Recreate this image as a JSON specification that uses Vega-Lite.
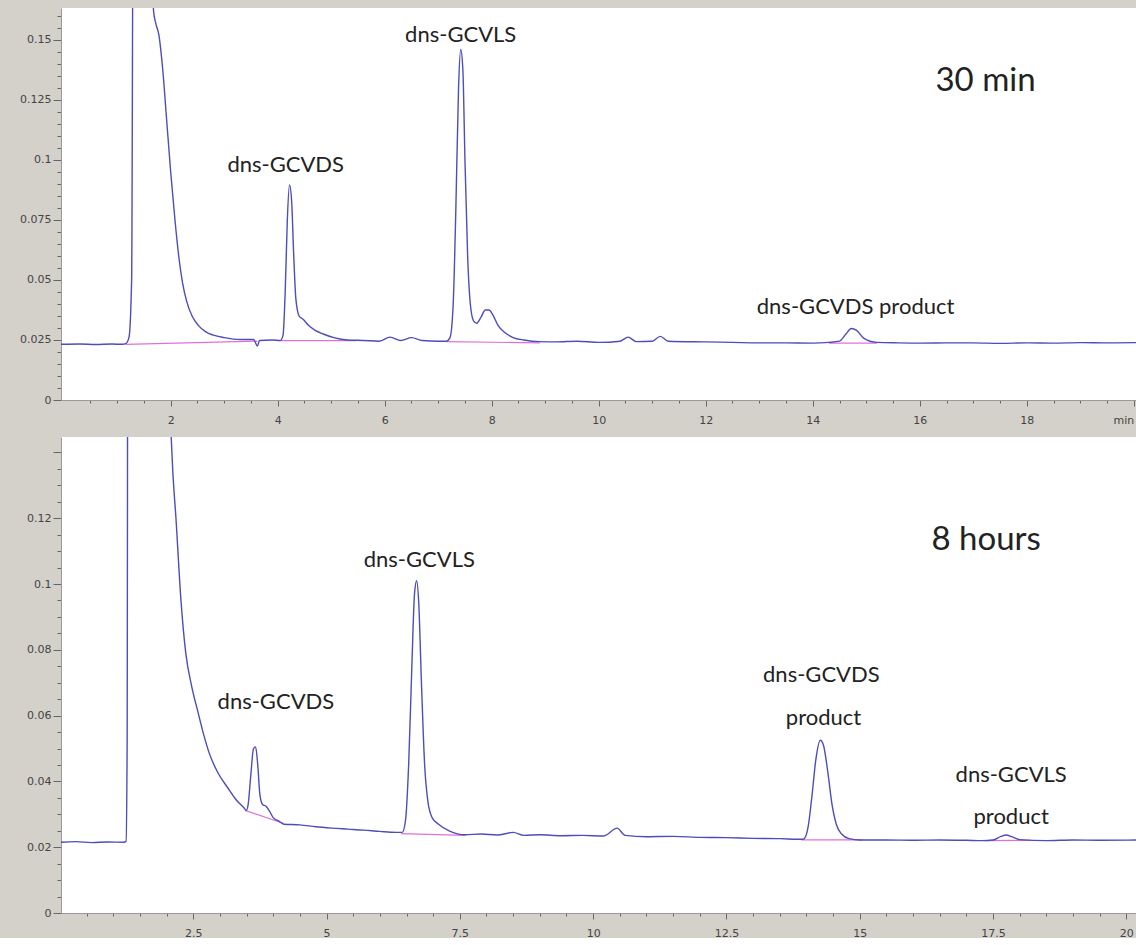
{
  "$schema": "https://vega.github.io/schema/vega-lite/v6.json",
  "background": "#d4d1ca",
  "padding": {"left": 19, "top": 8, "right": 0, "bottom": 0},
  "spacing": 12,
  "config": {
    "view": {"fill": "white", "stroke": null},
    "axis": {
      "labelFont": "DejaVu Sans", "labelFontSize": 11, "labelColor": "#444",
      "tickColor": "#666", "domainColor": "#999", "grid": false, "title": null, "labelPadding": 2
    },
    "text": {"font": "Lato", "color": "#222"}
  },
  "datasets": {
    "top": [
      {"t": -0.05, "v": 0.0232}, {"t": 0.3, "v": 0.0233}, {"t": 0.6, "v": 0.0231}, {"t": 0.9, "v": 0.0233}, {"t": 1.1, "v": 0.0232},
      {"t": 1.16, "v": 0.0235}, {"t": 1.22, "v": 0.026}, {"t": 1.27, "v": 0.05}, {"t": 1.31, "v": 0.3},
      {"t": 1.6, "v": 0.3}, {"t": 1.68, "v": 0.162}, {"t": 1.72, "v": 0.157}, {"t": 1.78, "v": 0.152}, {"t": 1.85, "v": 0.138},
      {"t": 1.92, "v": 0.118}, {"t": 2.0, "v": 0.095}, {"t": 2.08, "v": 0.075}, {"t": 2.15, "v": 0.06}, {"t": 2.22, "v": 0.049},
      {"t": 2.3, "v": 0.041}, {"t": 2.4, "v": 0.035}, {"t": 2.52, "v": 0.031}, {"t": 2.65, "v": 0.0285}, {"t": 2.8, "v": 0.027},
      {"t": 3.0, "v": 0.026}, {"t": 3.3, "v": 0.0252}, {"t": 3.55, "v": 0.0252}, {"t": 3.62, "v": 0.0225}, {"t": 3.66, "v": 0.0248},
      {"t": 3.9, "v": 0.025}, {"t": 4.05, "v": 0.0248}, {"t": 4.1, "v": 0.027}, {"t": 4.14, "v": 0.045}, {"t": 4.18, "v": 0.075},
      {"t": 4.22, "v": 0.0896}, {"t": 4.26, "v": 0.083}, {"t": 4.3, "v": 0.06}, {"t": 4.34, "v": 0.042}, {"t": 4.4, "v": 0.035},
      {"t": 4.48, "v": 0.0335}, {"t": 4.58, "v": 0.031}, {"t": 4.7, "v": 0.029}, {"t": 4.85, "v": 0.0275}, {"t": 5.05, "v": 0.026},
      {"t": 5.3, "v": 0.025}, {"t": 5.6, "v": 0.0248}, {"t": 5.9, "v": 0.0245}, {"t": 6.1, "v": 0.0262}, {"t": 6.3, "v": 0.0248},
      {"t": 6.5, "v": 0.026}, {"t": 6.7, "v": 0.0248}, {"t": 7.0, "v": 0.0245}, {"t": 7.15, "v": 0.0245}, {"t": 7.22, "v": 0.026},
      {"t": 7.28, "v": 0.04}, {"t": 7.33, "v": 0.08}, {"t": 7.38, "v": 0.13}, {"t": 7.42, "v": 0.146}, {"t": 7.46, "v": 0.138},
      {"t": 7.5, "v": 0.1}, {"t": 7.55, "v": 0.06}, {"t": 7.6, "v": 0.04}, {"t": 7.66, "v": 0.033}, {"t": 7.72, "v": 0.032},
      {"t": 7.8, "v": 0.0345}, {"t": 7.88, "v": 0.0375}, {"t": 7.95, "v": 0.0375}, {"t": 8.02, "v": 0.0355}, {"t": 8.12, "v": 0.031},
      {"t": 8.25, "v": 0.028}, {"t": 8.4, "v": 0.026}, {"t": 8.6, "v": 0.025}, {"t": 8.9, "v": 0.0243}, {"t": 9.2, "v": 0.0242},
      {"t": 9.6, "v": 0.0245}, {"t": 10.0, "v": 0.024}, {"t": 10.4, "v": 0.0245}, {"t": 10.55, "v": 0.0262}, {"t": 10.7, "v": 0.0243},
      {"t": 11.0, "v": 0.0245}, {"t": 11.15, "v": 0.0265}, {"t": 11.3, "v": 0.0245}, {"t": 12.0, "v": 0.0242}, {"t": 12.5, "v": 0.024},
      {"t": 13.0, "v": 0.0238}, {"t": 13.5, "v": 0.0238}, {"t": 14.0, "v": 0.0237}, {"t": 14.3, "v": 0.024}, {"t": 14.5, "v": 0.0245},
      {"t": 14.62, "v": 0.0275}, {"t": 14.72, "v": 0.0298}, {"t": 14.82, "v": 0.029}, {"t": 14.95, "v": 0.0258}, {"t": 15.2, "v": 0.024},
      {"t": 15.6, "v": 0.0238}, {"t": 16.0, "v": 0.0237}, {"t": 16.5, "v": 0.0238}, {"t": 17.0, "v": 0.0238}, {"t": 17.5, "v": 0.0236},
      {"t": 18.0, "v": 0.0238}, {"t": 18.5, "v": 0.0237}, {"t": 19.0, "v": 0.0239}, {"t": 19.5, "v": 0.0238}, {"t": 20.06, "v": 0.0239}
    ],
    "topBase": [
      {"seg": "a", "t": 1.16, "v": 0.0232}, {"seg": "a", "t": 3.62, "v": 0.0245},
      {"seg": "b", "t": 4.06, "v": 0.0247}, {"seg": "b", "t": 5.46, "v": 0.0247},
      {"seg": "c", "t": 7.15, "v": 0.0243}, {"seg": "c", "t": 8.9, "v": 0.0238},
      {"seg": "d", "t": 14.3, "v": 0.0237}, {"seg": "d", "t": 15.2, "v": 0.0237}
    ],
    "topLab": [
      {"t": 4.15, "v": 0.098, "txt": "dns-GCVDS"},
      {"t": 7.42, "v": 0.152, "txt": "dns-GCVLS"},
      {"t": 14.8, "v": 0.0388, "txt": "dns-GCVDS product"}
    ],
    "topTitle": [{"t": 17.23, "v": 0.133, "txt": "30 min"}],
    "bot": [
      {"t": 0.02, "v": 0.0215}, {"t": 0.3, "v": 0.0217}, {"t": 0.6, "v": 0.0214}, {"t": 0.9, "v": 0.0216}, {"t": 1.2, "v": 0.0215},
      {"t": 1.24, "v": 0.0218}, {"t": 1.26, "v": 0.05}, {"t": 1.28, "v": 0.3}, {"t": 2.0, "v": 0.3}, {"t": 2.06, "v": 0.16},
      {"t": 2.1, "v": 0.14}, {"t": 2.18, "v": 0.119}, {"t": 2.27, "v": 0.095}, {"t": 2.36, "v": 0.079}, {"t": 2.47, "v": 0.069},
      {"t": 2.59, "v": 0.061}, {"t": 2.7, "v": 0.054}, {"t": 2.8, "v": 0.0486}, {"t": 2.95, "v": 0.043}, {"t": 3.15, "v": 0.038},
      {"t": 3.3, "v": 0.0345}, {"t": 3.45, "v": 0.032}, {"t": 3.5, "v": 0.0312}, {"t": 3.53, "v": 0.033}, {"t": 3.58, "v": 0.042},
      {"t": 3.63, "v": 0.05}, {"t": 3.67, "v": 0.0505}, {"t": 3.71, "v": 0.045}, {"t": 3.75, "v": 0.036}, {"t": 3.8, "v": 0.033},
      {"t": 3.86, "v": 0.0325}, {"t": 3.93, "v": 0.031}, {"t": 4.0, "v": 0.029}, {"t": 4.1, "v": 0.028}, {"t": 4.2, "v": 0.027},
      {"t": 4.5, "v": 0.0268}, {"t": 4.8, "v": 0.0262}, {"t": 5.1, "v": 0.0258}, {"t": 5.4, "v": 0.0255}, {"t": 5.7, "v": 0.0252},
      {"t": 6.0, "v": 0.0248}, {"t": 6.3, "v": 0.0245}, {"t": 6.42, "v": 0.0245}, {"t": 6.48, "v": 0.028}, {"t": 6.54, "v": 0.045},
      {"t": 6.6, "v": 0.075}, {"t": 6.65, "v": 0.097}, {"t": 6.69, "v": 0.101}, {"t": 6.73, "v": 0.094}, {"t": 6.78, "v": 0.07},
      {"t": 6.84, "v": 0.045}, {"t": 6.9, "v": 0.034}, {"t": 6.98, "v": 0.029}, {"t": 7.1, "v": 0.027}, {"t": 7.3, "v": 0.025},
      {"t": 7.6, "v": 0.0238}, {"t": 7.9, "v": 0.024}, {"t": 8.2, "v": 0.0237}, {"t": 8.5, "v": 0.0245}, {"t": 8.7, "v": 0.0236},
      {"t": 9.0, "v": 0.0238}, {"t": 9.4, "v": 0.0235}, {"t": 9.8, "v": 0.0236}, {"t": 10.2, "v": 0.0234}, {"t": 10.45, "v": 0.0258},
      {"t": 10.6, "v": 0.0236}, {"t": 11.0, "v": 0.0232}, {"t": 11.5, "v": 0.0233}, {"t": 12.0, "v": 0.023}, {"t": 12.5, "v": 0.0229},
      {"t": 13.0, "v": 0.0227}, {"t": 13.5, "v": 0.0226}, {"t": 13.9, "v": 0.0224}, {"t": 13.95, "v": 0.0225}, {"t": 14.03, "v": 0.026},
      {"t": 14.1, "v": 0.035}, {"t": 14.18, "v": 0.047}, {"t": 14.26, "v": 0.0525}, {"t": 14.32, "v": 0.051}, {"t": 14.4, "v": 0.043},
      {"t": 14.48, "v": 0.033}, {"t": 14.56, "v": 0.027}, {"t": 14.66, "v": 0.024}, {"t": 14.8, "v": 0.0226}, {"t": 15.0, "v": 0.0222},
      {"t": 15.5, "v": 0.0222}, {"t": 16.0, "v": 0.0221}, {"t": 16.5, "v": 0.0222}, {"t": 17.0, "v": 0.0221}, {"t": 17.3, "v": 0.022},
      {"t": 17.5, "v": 0.0222}, {"t": 17.65, "v": 0.0233}, {"t": 17.75, "v": 0.0237}, {"t": 17.85, "v": 0.0232}, {"t": 18.0, "v": 0.0223},
      {"t": 18.5, "v": 0.022}, {"t": 19.0, "v": 0.0222}, {"t": 19.5, "v": 0.0221}, {"t": 20.2, "v": 0.0222}
    ],
    "botBase": [
      {"seg": "a", "t": 3.47, "v": 0.0312}, {"seg": "a", "t": 4.2, "v": 0.0272},
      {"seg": "b", "t": 6.4, "v": 0.0241}, {"seg": "b", "t": 7.6, "v": 0.0236},
      {"seg": "c", "t": 13.9, "v": 0.0222}, {"seg": "c", "t": 15.05, "v": 0.0222},
      {"seg": "d", "t": 17.35, "v": 0.022}, {"seg": "d", "t": 18.2, "v": 0.0221}
    ],
    "botLab": [
      {"t": 4.05, "v": 0.0641, "txt": "dns-GCVDS"},
      {"t": 6.74, "v": 0.1073, "txt": "dns-GCVLS"},
      {"t": 14.28, "v": 0.0723, "txt": "dns-GCVDS"},
      {"t": 14.32, "v": 0.0593, "txt": "product"},
      {"t": 17.84, "v": 0.0419, "txt": "dns-GCVLS"},
      {"t": 17.84, "v": 0.0292, "txt": "product"}
    ],
    "botTitle": [{"t": 17.37, "v": 0.1134, "txt": "8 hours"}]
  },
  "vconcat": [
    {
      "width": 1076, "height": 392,
      "encoding": {
        "x": {"field": "t", "type": "quantitative",
          "scale": {"domain": [-0.05, 20.06], "nice": false, "zero": false},
          "axis": {
            "values": [0.5,1,1.5,2,2.5,3,3.5,4,4.5,5,5.5,6,6.5,7,7.5,8,8.5,9,9.5,10,10.5,11,11.5,12,12.5,13,13.5,14,14.5,15,15.5,16,16.5,17,17.5,18,18.5,19,19.5,20],
            "labelExpr": "datum.value == 20 ? 'min' : (round(datum.value*10) % 20 == 0 ? datum.label : '')",
            "labelAlign": {"condition": {"test": "datum.value == 20", "value": "right"}, "value": "center"},
            "tickSize": {"condition": {"test": "round(datum.value*10) % 20 == 0", "value": 6}, "value": 3},
            "format": "~g", "labelPadding": 8
          }},
        "y": {"field": "v", "type": "quantitative",
          "scale": {"domain": [0, 0.1633], "nice": false, "zero": false},
          "axis": {
            "values": [0,0.005,0.01,0.015,0.02,0.025,0.03,0.035,0.04,0.045,0.05,0.055,0.06,0.065,0.07,0.075,0.08,0.085,0.09,0.095,0.1,0.105,0.11,0.115,0.12,0.125,0.13,0.135,0.14,0.145,0.15,0.155,0.16],
            "labelExpr": "round(datum.value*1000) % 25 == 0 ? datum.label : ''",
            "tickSize": {"condition": {"test": "round(datum.value*1000) % 25 == 0", "value": 8}, "value": 4},
            "format": ".3~f"
          }}
      },
      "layer": [
        {"data": {"name": "topBase"}, "mark": {"type": "line", "color": "#e070d8", "strokeWidth": 1.2, "clip": true},
          "encoding": {"detail": {"field": "seg"}}},
        {"data": {"name": "top"}, "mark": {"type": "line", "color": "#4d4dbb", "strokeWidth": 1.4, "clip": true, "interpolate": "monotone"}, "encoding": {}},
        {"data": {"name": "topLab"}, "mark": {"type": "text", "fontSize": 22, "align": "center", "baseline": "middle"},
          "encoding": {"text": {"field": "txt"}}},
        {"data": {"name": "topTitle"}, "mark": {"type": "text", "fontSize": 33, "align": "center", "baseline": "middle"},
          "encoding": {"text": {"field": "txt"}}}
      ]
    },
    {
      "width": 1076, "height": 476,
      "encoding": {
        "x": {"field": "t", "type": "quantitative",
          "scale": {"domain": [0.02, 20.2], "nice": false, "zero": false},
          "axis": {
            "values": [0.5,1,1.5,2,2.5,3,3.5,4,4.5,5,5.5,6,6.5,7,7.5,8,8.5,9,9.5,10,10.5,11,11.5,12,12.5,13,13.5,14,14.5,15,15.5,16,16.5,17,17.5,18,18.5,19,19.5,20],
            "labelExpr": "round(datum.value*10) % 25 == 0 ? datum.label : ''",
            "tickSize": {"condition": {"test": "round(datum.value*10) % 25 == 0", "value": 6}, "value": 3},
            "format": "~g", "labelPadding": 8
          }},
        "y": {"field": "v", "type": "quantitative",
          "scale": {"domain": [0, 0.1447], "nice": false, "zero": false},
          "axis": {
            "values": [0,0.005,0.01,0.015,0.02,0.025,0.03,0.035,0.04,0.045,0.05,0.055,0.06,0.065,0.07,0.075,0.08,0.085,0.09,0.095,0.1,0.105,0.11,0.115,0.12,0.125,0.13,0.135,0.14],
            "labelExpr": "round(datum.value*1000) % 20 == 0 && datum.value < 0.13 ? datum.label : ''",
            "tickSize": {"condition": {"test": "round(datum.value*1000) % 20 == 0", "value": 8}, "value": 4},
            "format": ".3~f"
          }}
      },
      "layer": [
        {"data": {"name": "botBase"}, "mark": {"type": "line", "color": "#e070d8", "strokeWidth": 1.2, "clip": true},
          "encoding": {"detail": {"field": "seg"}}},
        {"data": {"name": "bot"}, "mark": {"type": "line", "color": "#4d4dbb", "strokeWidth": 1.4, "clip": true, "interpolate": "monotone"}, "encoding": {}},
        {"data": {"name": "botLab"}, "mark": {"type": "text", "fontSize": 22, "align": "center", "baseline": "middle"},
          "encoding": {"text": {"field": "txt"}}},
        {"data": {"name": "botTitle"}, "mark": {"type": "text", "fontSize": 33, "align": "center", "baseline": "middle"},
          "encoding": {"text": {"field": "txt"}}}
      ]
    }
  ]
}
